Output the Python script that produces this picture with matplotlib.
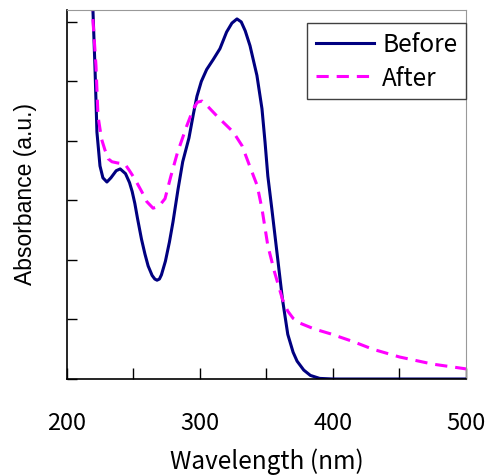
import matplotlib
matplotlib.use('Agg')
import matplotlib.pyplot as plt
from matplotlib.ticker import MultipleLocator, FuncFormatter

# ---- data ----
wl_before = [218, 219.5, 221, 222.5, 224.8, 227, 230, 233, 237, 240, 244, 247,
             249, 251, 253, 256, 258.6, 261, 264, 266, 267.7, 269.5, 271, 274,
             277, 279.7, 283.5, 287, 291.7, 295, 297.7, 301, 305, 310, 315, 320,
             324, 327.8, 331, 334, 337.6, 342.8, 346.6, 348.9, 351, 354, 358, 362,
             366, 370, 373, 378, 383, 390, 400, 450, 500]
abs_before = [6.6, 6.2, 5.26, 4.15, 3.58, 3.38, 3.31, 3.38, 3.5, 3.53, 3.45, 3.3,
              3.15, 2.95, 2.7, 2.35, 2.1, 1.9, 1.74, 1.68, 1.66, 1.68, 1.75, 1.98,
              2.3, 2.64, 3.19, 3.65, 4.05, 4.45, 4.75, 5.0, 5.2, 5.37, 5.55, 5.83,
              5.98, 6.05, 6.0, 5.85, 5.6, 5.1, 4.54, 3.98, 3.41, 2.86, 2.1, 1.34,
              0.75, 0.45, 0.3, 0.15, 0.06, 0.01, 0, 0, 0]

wl_after = [218, 219, 221.8, 223.3, 226, 228.5, 231, 233.8, 238, 243.6, 247, 251,
            256.4, 260, 264.7, 269, 273.7, 278, 283, 290, 295, 298, 301.5, 305,
            313.5, 319, 325, 331.6, 337, 343, 346.6, 351, 356, 362, 366, 370, 375,
            386, 398, 415, 430, 450, 475, 500]
abs_after = [6.6, 6.2, 5.26, 4.42, 4.03, 3.85, 3.7, 3.65, 3.63, 3.61, 3.5, 3.36,
             3.14, 2.98, 2.87, 2.9, 3.03, 3.4, 3.8, 4.25, 4.54, 4.65, 4.67, 4.6,
             4.4, 4.28, 4.15, 3.92, 3.6, 3.25, 2.86, 2.24, 1.8, 1.34, 1.14, 1.02,
             0.94, 0.84, 0.76, 0.63, 0.5, 0.37, 0.25, 0.17]

plt.rcParams['font.family'] = ['Noto Sans CJK JP', 'DejaVu Sans']

fig = plt.figure(figsize=(4.89, 4.77), dpi=100)
ax = fig.add_axes([67 / 489, 97 / 477, 399 / 489, 369 / 477])

ax.plot(wl_before, abs_before, color='#000080', lw=2.2, label='Before')
ax.plot(wl_after, abs_after, color='#FF00FF', lw=2.2, dashes=(4, 2.6), label='After')

ax.set_xlim(200, 500)
ax.set_ylim(0, 6.2)

ax.xaxis.set_major_locator(MultipleLocator(50))
ax.xaxis.set_major_formatter(FuncFormatter(lambda v, p: f'{v:.0f}' if v % 100 == 0 else ''))
ax.yaxis.set_major_locator(MultipleLocator(1))
ax.set_yticklabels([])
ax.tick_params(axis='both', direction='in', length=8, width=1, labelsize=17)
ax.tick_params(axis='x', pad=23)
ax.tick_params(axis='y', length=7)

for s in ['top', 'right']:
    ax.spines[s].set_color('#999999')
for s in ['left', 'bottom']:
    ax.spines[s].set_color('black')
    ax.spines[s].set_linewidth(1.2)

ax.set_xlabel('Wavelength (nm)', fontsize=17.5, labelpad=10)
ax.set_ylabel('Absorbance (a.u.)', fontsize=16.5, family='Liberation Sans')
ax.yaxis.set_label_coords(-0.075, 0.505)

leg = ax.legend(loc='upper right', bbox_to_anchor=(1.0, 0.965), borderaxespad=0,
                fontsize=17.5, fancybox=False, framealpha=1, handlelength=2.4,
                handletextpad=0.35, labelspacing=0.3, borderpad=0.35)
leg.get_frame().set_edgecolor('#404040')
leg.get_frame().set_linewidth(1)

fig.savefig('out.png', dpi=100)
